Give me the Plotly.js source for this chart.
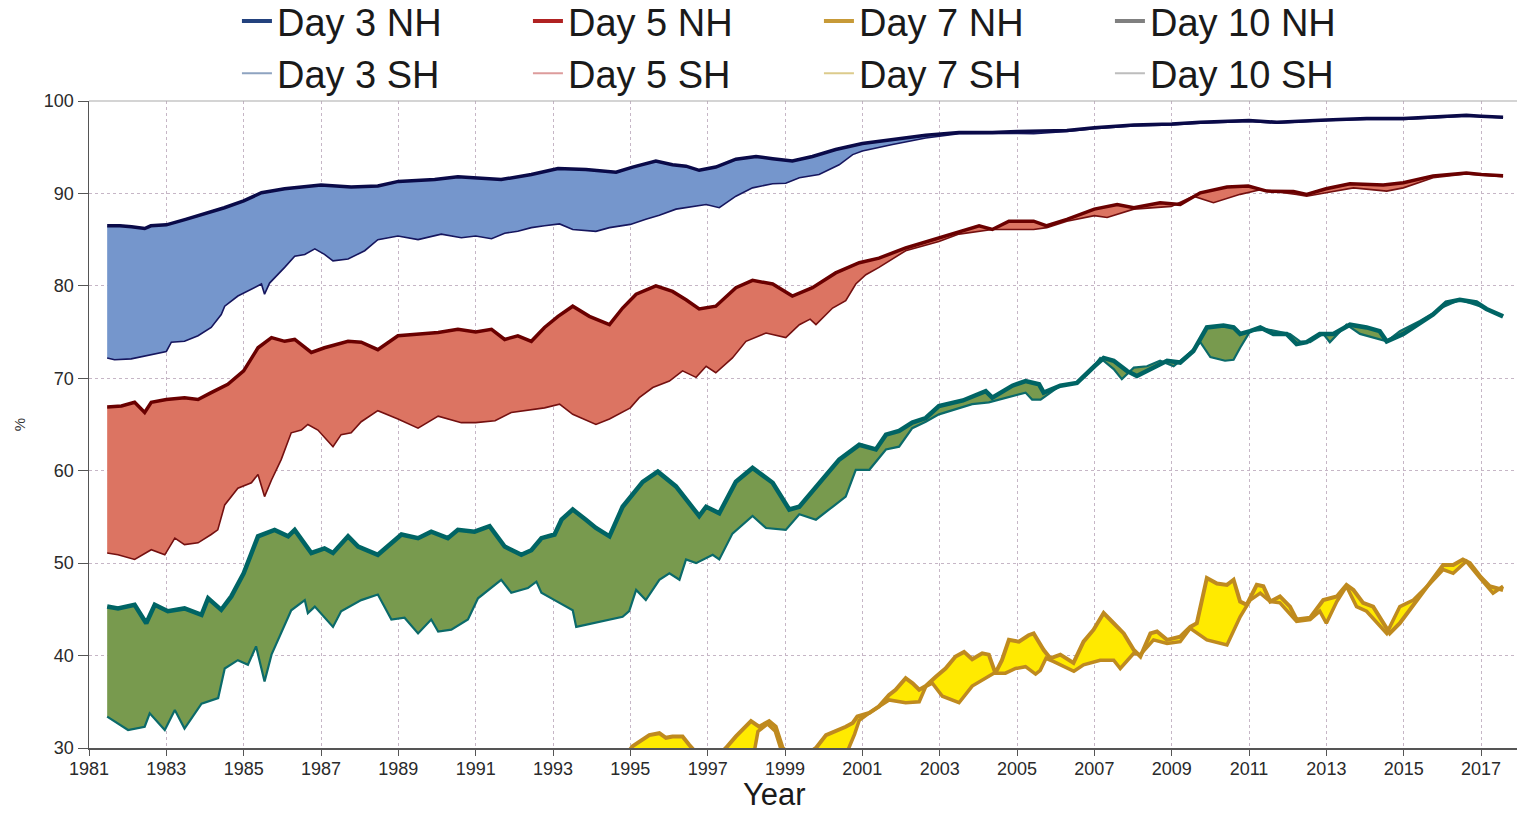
<!DOCTYPE html>
<html>
<head>
<meta charset="utf-8">
<script src="https://cdn.plot.ly/plotly-3.0.1.min.js"></script>
<style>
  html, body { margin: 0; padding: 0; background: #ffffff; }
  #chart { width: 1519px; height: 815px; }
</style>
</head>
<body>
<div id="chart"></div>
<script>
// ---------- Data (anomaly correlation, %, 12-month running mean) ----------
const day3NH_year = [1981.47,1981.8,1982.1,1982.44,1982.6,1983.0,1983.5,1983.9,1984.5,1985.0,1985.46,1986.06,1987.0,1987.78,1988.47,1989.0,1989.94,1990.54,1991.0,1991.66,1992.44,1993.13,1993.85,1994.11,1994.63,1995.06,1995.66,1996.09,1996.44,1996.78,1997.21,1997.73,1998.25,1998.68,1999.19,1999.71,2000.31,2001.0,2001.78,2002.64,2003.5,2004.36,2005.0,2005.57,2006.29,2007.0,2008.02,2009.0,2009.74,2011.0,2011.72,2013.0,2014.04,2015.0,2015.76,2016.62,2017.0,2017.57];
const day3NH_pct  = [86.5,86.5,86.4,86.2,86.5,86.6,87.2,87.7,88.45,89.2,90.07,90.5,90.9,90.7,90.8,91.3,91.5,91.8,91.7,91.5,92.05,92.7,92.6,92.5,92.3,92.85,93.5,93.1,92.95,92.5,92.85,93.7,94.0,93.75,93.5,94.0,94.75,95.4,95.8,96.3,96.6,96.6,96.7,96.75,96.8,97.1,97.4,97.5,97.7,97.9,97.7,97.95,98.1,98.1,98.25,98.45,98.35,98.25];

const day3SH_year = [1981.47,1981.66,1982.09,1982.61,1983.0,1983.13,1983.47,1983.82,1984.16,1984.42,1984.51,1984.85,1985.2,1985.46,1985.54,1985.67,1986.06,1986.32,1986.58,1986.84,1987.09,1987.31,1987.7,1988.13,1988.47,1988.99,1989.51,1990.11,1990.63,1991.0,1991.41,1991.75,1992.09,1992.44,1992.78,1993.17,1993.51,1994.11,1994.46,1995.0,1995.4,1995.75,1996.18,1996.61,1996.96,1997.3,1997.73,1998.16,1998.68,1999.02,1999.37,1999.88,2000.4,2000.75,2001.0,2001.78,2002.64,2003.5,2004.36,2005.0,2005.43,2006.29,2007.0,2008.02,2009.0,2009.74,2011.0,2011.72,2013.0,2014.04,2015.0,2015.76,2016.62,2017.0,2017.57];
const day3SH_pct  = [72.2,72.0,72.1,72.6,72.9,73.9,74.0,74.6,75.5,76.9,77.8,78.9,79.6,80.2,79.1,80.3,82.0,83.2,83.4,84.0,83.4,82.7,82.9,83.8,85.0,85.4,85.0,85.6,85.2,85.4,85.1,85.7,85.9,86.3,86.5,86.7,86.1,85.9,86.3,86.65,87.2,87.65,88.3,88.6,88.8,88.45,89.7,90.6,91.05,91.1,91.7,92.05,93.1,94.2,94.6,95.3,96.0,96.45,96.5,96.5,96.45,96.7,97.0,97.3,97.4,97.6,97.8,97.6,97.9,98.0,98.0,98.2,98.35,98.3,98.2];

const day5NH_year = [1981.47,1981.84,1982.18,1982.44,1982.61,1983.0,1983.47,1983.82,1984.16,1984.59,1985.0,1985.37,1985.72,1986.06,1986.32,1986.75,1987.09,1987.7,1988.04,1988.47,1988.99,1989.51,1990.03,1990.54,1991.0,1991.41,1991.75,1992.09,1992.44,1992.78,1993.13,1993.51,1993.94,1994.46,1994.8,1995.15,1995.66,1996.09,1996.44,1996.78,1997.21,1997.73,1998.16,1998.68,1999.19,1999.71,2000.31,2000.92,2001.43,2002.12,2002.98,2003.5,2004.02,2004.36,2004.79,2005.43,2005.77,2006.29,2007.0,2007.59,2008.02,2008.7,2009.22,2009.74,2010.43,2010.98,2011.46,2012.15,2012.49,2012.99,2013.61,2014.47,2014.99,2015.76,2016.62,2017.01,2017.57];
const day5NH_pct  = [66.9,67.0,67.4,66.3,67.4,67.7,67.9,67.7,68.45,69.35,70.8,73.3,74.4,74.0,74.2,72.8,73.3,74.0,73.9,73.1,74.6,74.8,74.95,75.3,75.0,75.3,74.2,74.6,74.0,75.5,76.7,77.8,76.7,75.8,77.6,79.1,80.0,79.4,78.5,77.5,77.8,79.8,80.6,80.2,78.9,79.8,81.4,82.5,83.0,84.1,85.2,85.9,86.5,86.1,87.0,87.0,86.5,87.2,88.3,88.8,88.45,89.0,88.8,90.07,90.7,90.8,90.25,90.2,89.9,90.5,91.05,90.9,91.15,91.9,92.2,92.05,91.9];

const day5SH_year = [1981.47,1981.75,1982.18,1982.61,1982.96,1983.22,1983.47,1983.82,1984.16,1984.33,1984.51,1984.85,1985.2,1985.37,1985.54,1985.72,1985.97,1986.23,1986.49,1986.66,1986.92,1987.31,1987.52,1987.78,1988.04,1988.47,1988.99,1989.51,1990.03,1990.63,1991.0,1991.5,1991.92,1992.44,1992.78,1993.17,1993.51,1994.11,1994.46,1995.0,1995.23,1995.58,1996.01,1996.35,1996.7,1996.96,1997.21,1997.64,1997.99,1998.51,1999.02,1999.37,1999.65,1999.8,2000.23,2000.57,2000.83,2001.09,2001.43,2002.12,2002.98,2003.5,2004.36,2004.79,2005.43,2005.77,2006.29,2007.0,2007.33,2008.02,2008.99,2009.56,2010.08,2010.77,2011.29,2012.23,2012.49,2012.99,2013.7,2014.56,2014.99,2015.76,2016.62,2017.57];
const day5SH_pct  = [51.1,50.9,50.4,51.45,50.9,52.7,52.0,52.2,53.1,53.6,56.3,58.1,58.7,59.6,57.2,59.0,61.2,64.1,64.4,65.0,64.4,62.6,63.9,64.1,65.3,66.5,65.6,64.6,65.9,65.2,65.2,65.4,66.3,66.6,66.8,67.2,66.1,65.0,65.6,66.8,67.9,69.0,69.7,70.8,70.1,71.3,70.6,72.2,74.0,74.9,74.4,75.8,76.4,75.8,77.6,78.4,80.2,81.2,82.0,83.8,84.8,85.6,86.1,86.1,86.1,86.3,87.0,87.6,87.4,88.3,88.6,89.7,89.0,89.9,90.4,89.9,89.7,90.07,90.6,90.25,90.6,91.7,92.1,91.8];

const day7NH_year = [1981.47,1981.75,1982.18,1982.48,1982.7,1983.04,1983.47,1983.91,1984.08,1984.42,1984.68,1985.0,1985.37,1985.8,1986.15,1986.32,1986.75,1987.09,1987.31,1987.7,1987.96,1988.47,1989.08,1989.51,1989.85,1990.28,1990.54,1990.97,1991.36,1991.75,1992.18,1992.44,1992.7,1993.04,1993.22,1993.51,1993.85,1994.11,1994.46,1994.8,1995.32,1995.71,1996.18,1996.61,1996.78,1996.96,1997.3,1997.73,1998.16,1998.68,1999.11,1999.37,1999.71,2000.06,2000.4,2000.92,2001.35,2001.61,2001.95,2002.29,2002.64,2002.98,2003.6,2004.19,2004.36,2004.88,2005.22,2005.57,2005.69,2006.12,2006.55,2007.0,2007.24,2007.5,2007.84,2008.1,2008.53,2008.88,2009.22,2009.56,2009.91,2010.34,2010.6,2010.77,2011.03,2011.29,2011.63,2011.97,2012.23,2012.49,2012.83,2013.18,2013.61,2014.04,2014.38,2014.56,2014.99,2015.42,2015.76,2016.1,2016.45,2016.88,2017.14,2017.57];
const day7NH_pct  = [45.3,45.1,45.5,43.5,45.5,44.8,45.1,44.4,46.2,44.95,46.4,48.9,52.9,53.6,52.9,53.6,51.1,51.6,51.1,52.9,51.8,50.9,53.1,52.7,53.4,52.7,53.6,53.4,54.0,51.8,50.9,51.4,52.7,53.1,54.7,55.8,54.7,53.8,52.9,56.1,58.8,59.9,58.3,56.1,55.1,56.1,55.4,58.8,60.3,58.7,55.8,56.1,57.8,59.4,61.2,62.8,62.3,63.9,64.3,65.2,65.7,67.0,67.6,68.6,67.9,69.2,69.7,69.35,68.45,69.2,69.5,71.3,72.2,71.9,70.8,70.25,71.15,71.9,71.7,72.95,75.5,75.7,75.5,74.8,75.1,75.5,74.8,74.8,73.7,73.9,74.8,74.8,75.8,75.5,75.1,74.0,74.8,76.0,76.9,78.2,78.5,78.2,77.5,76.7];

const day7SH_year = [1981.47,1982.01,1982.44,1982.57,1982.96,1983.22,1983.47,1983.91,1984.34,1984.51,1984.85,1985.11,1985.32,1985.54,1985.72,1986.23,1986.58,1986.66,1986.84,1987.31,1987.52,1988.04,1988.47,1988.82,1989.16,1989.51,1989.85,1990.03,1990.37,1990.8,1991.06,1991.66,1991.92,1992.35,1992.57,1992.7,1993.04,1993.17,1993.51,1993.6,1994.03,1994.46,1994.8,1994.97,1995.15,1995.4,1995.75,1996.01,1996.27,1996.44,1996.7,1997.13,1997.3,1997.64,1998.16,1998.51,1999.02,1999.37,1999.8,2000.23,2000.57,2000.83,2001.18,2001.61,2001.95,2002.29,2002.64,2002.98,2003.84,2004.27,2005.22,2005.39,2005.61,2006.12,2006.55,2006.81,2007.15,2007.5,2007.71,2008.02,2008.36,2008.7,2009.05,2009.48,2009.74,2010.0,2010.38,2010.6,2010.77,2011.03,2011.46,2012.06,2012.32,2012.58,2012.92,2013.09,2013.52,2013.87,2014.38,2014.56,2014.9,2015.42,2016.02,2016.45,2016.97,2017.57];
const day7SH_pct  = [33.4,31.95,32.3,33.75,31.95,34.1,32.1,34.8,35.4,38.6,39.5,39.0,41.0,37.2,40.1,44.9,46.0,44.6,45.3,43.1,44.8,46.0,46.6,43.9,44.1,42.4,43.9,42.6,42.8,43.9,46.2,48.2,46.8,47.3,48.0,46.8,46.0,45.7,44.9,43.1,43.5,43.9,44.2,44.8,47.1,46.0,48.2,48.9,48.2,50.4,50.0,50.9,50.4,53.2,55.1,53.8,53.6,55.3,54.7,56.1,57.2,60.1,60.1,62.3,62.6,64.6,65.3,66.1,67.2,67.4,68.45,67.7,67.7,69.2,69.5,70.4,72.2,71.0,69.9,71.15,71.3,71.9,71.3,72.8,73.9,72.3,71.9,72.0,73.3,75.1,75.3,74.8,74.0,73.9,74.8,73.9,75.8,74.8,74.2,74.0,75.1,76.2,77.7,78.5,77.8,76.7];

const day10NH_year = [1994.5,1994.95,1995.06,1995.3,1995.49,1995.75,1995.92,1996.09,1996.35,1996.52,1996.7,1997.0,1997.3,1997.47,1997.73,1998.12,1998.33,1998.59,1998.76,1998.94,1999.2,1999.55,1999.8,2000.06,2000.31,2000.57,2000.75,2000.87,2001.18,2001.43,2001.69,2001.86,2002.12,2002.3,2002.47,2002.64,2002.9,2003.15,2003.41,2003.63,2003.84,2004.1,2004.27,2004.44,2004.61,2004.79,2005.05,2005.3,2005.43,2005.69,2005.86,2006.12,2006.46,2006.72,2006.98,2007.24,2007.5,2007.76,2008.02,2008.19,2008.45,2008.62,2008.88,2009.22,2009.48,2009.65,2009.91,2010.17,2010.43,2010.6,2010.77,2010.94,2011.2,2011.37,2011.55,2011.8,2012.06,2012.23,2012.58,2012.92,2013.27,2013.52,2013.7,2013.95,2014.21,2014.47,2014.64,2014.9,2015.16,2015.59,2016.02,2016.28,2016.53,2016.71,2016.97,2017.22,2017.57];
const day10NH_pct  = [28.0,29.6,30.2,30.8,31.4,31.6,31.1,31.25,31.25,30.35,29.5,28.8,29.3,30.0,31.25,32.9,32.3,32.9,32.3,30.0,29.0,29.3,30.0,31.4,31.8,32.3,32.7,33.4,33.8,34.5,35.75,36.3,37.55,37.0,36.3,36.7,37.7,38.6,39.9,40.4,39.6,40.25,40.1,38.1,39.5,41.7,41.5,42.2,42.4,40.6,39.7,40.1,39.2,41.5,42.8,44.6,43.5,42.4,40.6,39.9,42.4,42.6,41.7,42.05,43.1,43.5,48.4,47.8,47.65,48.2,45.85,45.5,47.65,47.5,45.85,46.4,45.3,43.9,44.1,46.0,46.4,47.65,47.1,45.7,45.3,43.5,42.4,43.5,45.0,47.5,49.8,49.8,50.4,50.0,48.6,47.5,47.1];

const day10SH_year = [1994.5,1995.5,1996.5,1997.5,1998.0,1998.2,1998.3,1998.55,1998.75,1998.9,1999.2,1999.6,2000.0,2000.3,2000.6,2000.8,2000.92,2001.18,2001.43,2001.69,2002.12,2002.47,2002.64,2002.81,2003.07,2003.5,2003.84,2004.1,2004.4,2004.7,2004.96,2005.22,2005.48,2005.6,2005.75,2005.95,2006.47,2006.72,2007.15,2007.5,2007.67,2008.02,2008.19,2008.53,2008.88,2009.22,2009.48,2009.91,2010.43,2010.77,2011.03,2011.29,2011.55,2011.8,2012.23,2012.58,2012.83,2013.0,2013.27,2013.52,2013.78,2014.04,2014.56,2014.9,2015.25,2015.68,2016.02,2016.28,2016.62,2016.97,2017.31,2017.57];
const day10SH_pct  = [26.5,27.5,28.0,27.5,28.5,29.5,31.8,32.6,31.8,29.8,27.5,27.5,28.0,28.8,29.5,31.5,33.0,33.8,34.5,35.2,34.9,35.0,36.65,37.0,35.6,34.9,36.7,37.4,38.1,38.1,38.6,38.8,38.0,38.4,39.7,39.35,38.3,39.0,39.5,39.5,38.6,40.25,40.1,41.7,41.3,41.5,42.95,41.7,41.15,44.2,46.0,46.75,45.85,45.7,43.7,43.9,44.8,43.5,45.85,47.5,45.3,44.8,42.4,45.3,46.0,47.8,49.3,48.9,50.2,48.4,46.75,47.5];

const legendNames  = ['Day 3 NH','Day 5 NH','Day 7 NH','Day 10 NH','Day 3 SH','Day 5 SH','Day 7 SH','Day 10 SH'];
const legendColors = ['#23427e','#b02222','#c79a38','#808080','#8ea3c0','#dd9c9c','#dccb8c','#bdbdbd'];
const legendWidths = [4,4,4,4,2,2,2,2];

const xTickVals = [1981,1983,1985,1987,1989,1991,1993,1995,1997,1999,2001,2003,2005,2007,2009,2011,2013,2015,2017];
const yTickVals = [30,40,50,60,70,80,90,100];
const xTitle = 'Year';
const yTitle = '%';

// ---------- Traces ----------
function band(shX, shY, nhX, nhY, shLine, nhLine, fill) {
  return [
    {x: shX, y: shY, type: 'scatter', mode: 'lines', line: shLine, showlegend: false, hoverinfo: 'skip'},
    {x: nhX, y: nhY, type: 'scatter', mode: 'lines', line: nhLine, fill: 'tonexty', fillcolor: fill, showlegend: false, hoverinfo: 'skip'}
  ];
}

const traces = [].concat(
  band(day10SH_year, day10SH_pct, day10NH_year, day10NH_pct,
       {color: '#bf8a1f', width: 3.5}, {color: '#bf8a1f', width: 4}, '#ffea00'),
  band(day7SH_year, day7SH_pct, day7NH_year, day7NH_pct,
       {color: '#0b6a6a', width: 2.2}, {color: '#006464', width: 4.5}, '#789a4e'),
  band(day5SH_year, day5SH_pct, day5NH_year, day5NH_pct,
       {color: '#741010', width: 1.6}, {color: '#6a0000', width: 3.5}, '#dc7462'),
  band(day3SH_year, day3SH_pct, day3NH_year, day3NH_pct,
       {color: '#16165e', width: 1.6}, {color: '#0a0a48', width: 3.5}, '#7596cc')
);

legendNames.forEach(function (n, i) {
  traces.push({x: [null], y: [null], type: 'scatter', mode: 'lines', name: n,
               line: {color: legendColors[i], width: legendWidths[i]}, hoverinfo: 'skip'});
});

const axisFont = {family: 'Liberation Sans, Arial, sans-serif', size: 18, color: '#2a2a2a'};

const layout = {
  width: 1519, height: 815,
  paper_bgcolor: '#ffffff', plot_bgcolor: '#ffffff',
  margin: {l: 89, r: 2, t: 101, b: 67, autoexpand: false},
  hovermode: false,
  font: {family: 'Liberation Sans, Arial, sans-serif', color: '#222'},
  showlegend: true,
  legend: {
    orientation: 'h', x: 0.1036, xanchor: 'left', y: 1.172, yanchor: 'top',
    entrywidth: 246, entrywidthmode: 'pixels',
    font: {family: 'Liberation Sans, Arial, sans-serif', size: 38, color: '#1a1a1a'},
    bgcolor: 'rgba(0,0,0,0)', borderwidth: 0, traceorder: 'normal'
  },
  xaxis: {
    range: [1981, 2017.93], tickvals: xTickVals, ticktext: xTickVals.map(String),
    ticks: 'outside', ticklen: 6, tickcolor: '#555', tickfont: axisFont, ticklabelstandoff: -2,
    showline: true, linecolor: '#555', linewidth: 1.5,
    showgrid: true, gridcolor: '#c6b6c6', griddash: 'dot', gridwidth: 1,
    zeroline: false
  },
  yaxis: {
    range: [30, 100], tickvals: yTickVals, ticktext: yTickVals.map(String),
    ticks: 'outside', ticklen: 10, tickcolor: '#555', tickfont: axisFont,
    showline: true, linecolor: '#555', linewidth: 1.5,
    showgrid: true, gridcolor: '#c6b6c6', griddash: 'dot', gridwidth: 1,
    zeroline: false,
    title: {text: yTitle, font: {family: 'Liberation Sans, Arial, sans-serif', size: 15, color: '#333'}, standoff: 14}
  },
  annotations: [
    {text: xTitle, xref: 'paper', yref: 'paper', x: 0.4797, y: -0.1005,
     xanchor: 'center', yanchor: 'bottom', showarrow: false, borderpad: 0,
     font: {family: 'Liberation Sans, Arial, sans-serif', size: 31, color: '#1a1a1a'}}
  ],
  shapes: [
    {type: 'line', xref: 'paper', yref: 'paper', x0: 0, x1: 1, y0: 1, y1: 1,
     line: {color: '#aaaaaa', width: 1.2}}
  ]
};

Plotly.newPlot('chart', traces, layout, {displayModeBar: false, staticPlot: true});
</script>
</body>
</html>
